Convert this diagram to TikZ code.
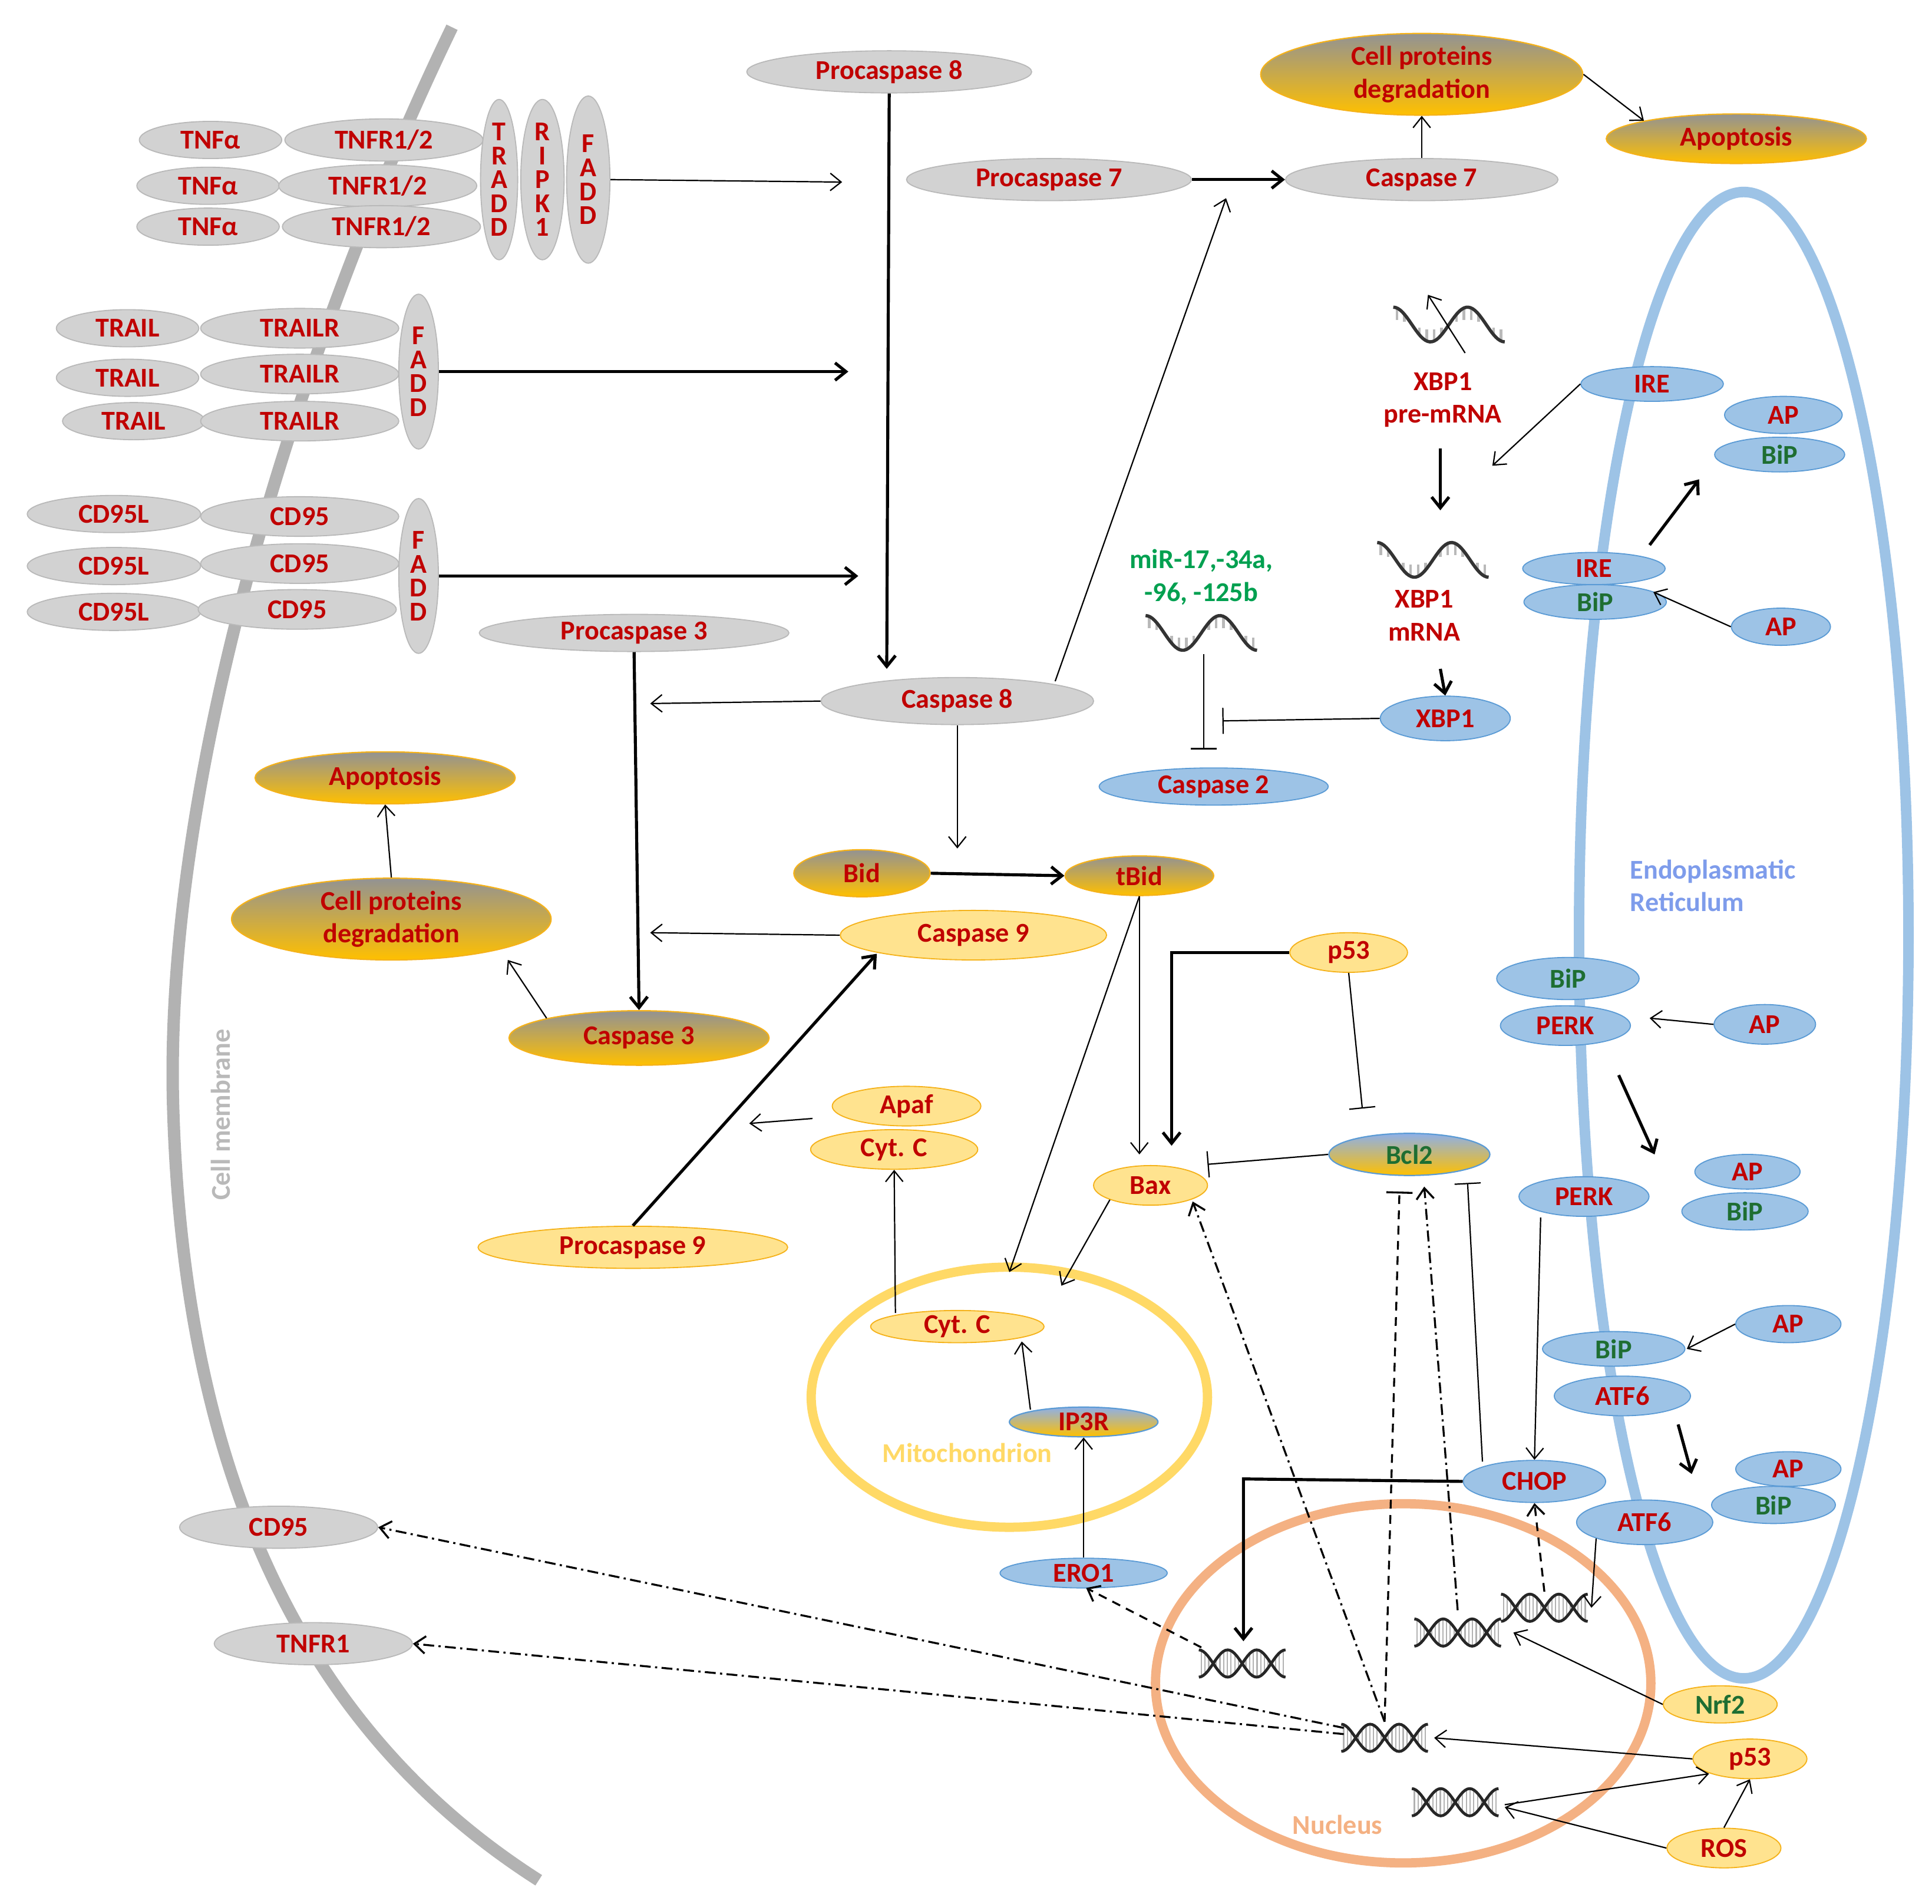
\documentclass[tikz,border=0pt]{standalone}
\usepackage{fontspec}
\setmainfont{Carlito}
\usetikzlibrary{arrows.meta,shapes.geometric}
\definecolor{rd}{HTML}{C00000}
\definecolor{gn}{HTML}{00A050}
\definecolor{bgn}{HTML}{1E6E32}
\definecolor{blf}{HTML}{9DC3E6}
\definecolor{bld}{HTML}{5B9BD5}
\definecolor{orf}{HTML}{FFE38F}
\definecolor{ord}{HTML}{F5B21A}
\definecolor{gold}{HTML}{FFC000}
\definecolor{mito}{HTML}{FFD966}
\definecolor{nuc}{HTML}{F4B183}
\newcommand\E[7]{\node[#1, minimum width=#5*0.02cm, minimum height=#6*0.02cm] (#2) at (#3,#4) {#7};}
\begin{document}
\begin{tikzpicture}[x=0.02cm,y=-0.02cm,
 every node/.style={font=\fontsize{12.5}{13}\selectfont\bfseries, text=rd, inner sep=0pt},
 base/.style={ellipse},
 g/.style={base, fill=gray!35, draw=gray!55, line width=0.5pt},
 ob/.style={base, fill=orf, draw=ord, line width=0.5pt},
 og/.style={base, top color=gray!85, bottom color=gold, draw=ord, line width=0.6pt},
 bo/.style={base, top color=blf!90!blue, bottom color=gold, draw=bld, line width=0.6pt},
 bl/.style={base, fill=blf, draw=bld, line width=0.5pt},
 vt/.style={align=center, font=\fontsize{12.5}{11}\selectfont\bfseries},
 ar/.style={-{Straight Barb[length=5pt,width=8pt]}, line width=0.6pt},
 tk/.style={-{Straight Barb[length=5pt,width=8pt]}, line width=1.4pt},
 inh/.style={-{Bar[width=12pt]}, line width=0.6pt},
 dd/.style={ar, dash pattern=on 5pt off 2pt on 1pt off 2pt, line width=0.9pt},
 dna/.pic={\foreach \x in {-33,-30,...,33}{\draw[gray!60, line width=0.6pt] (\x,{11*sin(\x*7.7)}) -- (\x,{-11*sin(\x*7.7)});}
   \foreach \p in {0,180}{\draw[gray!30!black, line width=1.3pt] plot[domain=-35:35, samples=40] (\x,{11*sin(\x*7.7+\p)});}},
 rna/.pic={\foreach \x in {-42,-36,...,42}{\draw[gray!55, line width=1.2pt] (\x,{-14*cos((\x+45)*6)}) -- (\x,{-4*cos((\x+45)*6)});}
   \draw[gray!40!black, line width=1.5pt] plot[domain=-45:45, samples=50] (\x,{-14*cos((\x+45)*6)});}
]
\useasboundingbox (0,0) rectangle (1560,1537);
% big shapes
\draw[gray!60, line width=0.2cm] (365,22) .. controls (250,260) and (130,620) .. (140,900) .. controls (150,1200) and (250,1400) .. (435,1518);
\draw[blf, line width=0.17cm] (1408,755) ellipse [x radius=133, y radius=600];
\draw[mito, line width=0.15cm] (815,1128) ellipse [x radius=160, y radius=105];
\draw[nuc, line width=0.15cm] (1133,1359) ellipse [x radius=200, y radius=145];
\node[text=gray!55, rotate=90, font=\fontsize{12.5}{13}\selectfont\bfseries] at (178,900) {Cell membrane};
\node[text=blf!80!blue, align=left, anchor=west, font=\fontsize{12.5}{15}\selectfont\bfseries] at (1316,715) {Endoplasmatic\\Reticulum};
\node[text=mito] at (781,1173) {Mitochondrion};
\node[text=nuc] at (1080,1473) {Nucleus};
% gray nodes
\E{g}{proc8}{718}{58}{230}{34}{Procaspase 8}
\E{g}{ta1}{170}{113}{115}{30}{TNFα}
\E{g}{ta2}{168}{150}{115}{30}{TNFα}
\E{g}{ta3}{168}{183}{115}{30}{TNFα}
\E{g}{tr1}{310}{113}{160}{34}{TNFR1/2}
\E{g}{tr2}{305}{150}{160}{34}{TNFR1/2}
\E{g}{tr3}{308}{183}{160}{34}{TNFR1/2}
\E{g,vt}{tradd}{403}{145}{30}{125}{T\\R\\A\\D\\D}
\E{g,vt}{ripk}{438}{145}{35}{125}{R\\I\\P\\K\\1}
\E{g,vt}{fadd1}{475}{145}{35}{135}{F\\A\\D\\D}
\E{g}{tl1}{103}{265}{115}{30}{TRAIL}
\E{g}{tl2}{103}{305}{115}{30}{TRAIL}
\E{g}{tl3}{108}{340}{115}{30}{TRAIL}
\E{g}{tlr1}{242}{265}{160}{32}{TRAILR}
\E{g}{tlr2}{242}{302}{160}{32}{TRAILR}
\E{g}{tlr3}{242}{340}{160}{32}{TRAILR}
\E{g,vt}{fadd2}{338}{300}{32}{125}{F\\A\\D\\D}
\E{g}{cl1}{92}{415}{140}{30}{CD95L}
\E{g}{cl2}{92}{457}{140}{30}{CD95L}
\E{g}{cl3}{92}{494}{140}{30}{CD95L}
\E{g}{c1}{242}{417}{160}{32}{CD95}
\E{g}{c2}{242}{455}{160}{32}{CD95}
\E{g}{c3}{240}{492}{160}{32}{CD95}
\E{g,vt}{fadd3}{338}{465}{32}{125}{F\\A\\D\\D}
\E{g}{proc7}{847}{145}{230}{34}{Procaspase 7}
\E{g}{casp7}{1148}{145}{220}{34}{Caspase 7}
\E{g}{proc3}{512}{511}{250}{30}{Procaspase 3}
\E{g}{casp8}{773}{566}{220}{38}{Caspase 8}
\E{g}{cd95b}{225}{1233}{160}{34}{CD95}
\E{g}{tnfr1b}{253}{1327}{160}{34}{TNFR1}
% gradient nodes
\E{og,align=center,font=\fontsize{12.5}{15}\selectfont\bfseries}{cp1}{1148}{60}{260}{66}{Cell proteins\\degradation}
\E{og}{apop1}{1402}{112}{210}{40}{Apoptosis}
\E{og}{apop2}{311}{628}{210}{42}{Apoptosis}
\E{og,align=center,font=\fontsize{12.5}{15}\selectfont\bfseries}{cp2}{316}{742}{258}{66}{Cell proteins\\degradation}
\E{og}{casp3}{516}{838}{210}{44}{Caspase 3}
\E{og}{bid}{696}{705}{110}{38}{Bid}
\E{og}{tbid}{920}{707}{120}{32}{tBid}
\E{bo}{bcl2}{1138}{932}{130}{34}{\textcolor{bgn}{Bcl2}}
\E{bo}{ip3r}{875}{1148}{120}{24}{IP3R}
% orange nodes
\E{ob}{casp9}{786}{755}{215}{40}{Caspase 9}
\E{ob}{p53a}{1089}{769}{95}{32}{p53}
\E{ob}{apaf}{732}{893}{120}{32}{Apaf}
\E{ob}{cytc1}{722}{928}{135}{32}{Cyt. C}
\E{ob}{bax}{929}{957}{92}{32}{Bax}
\E{ob}{proc9}{511}{1007}{250}{34}{Procaspase 9}
\E{ob}{cytc2}{773}{1071}{140}{26}{Cyt. C}
\E{ob}{nrf2}{1389}{1376}{92}{30}{\textcolor{bgn}{Nrf2}}
\E{ob}{p53b}{1413}{1420}{92}{32}{p53}
\E{ob}{ros}{1392}{1492}{92}{32}{ROS}
% blue nodes
\E{bl}{ire1}{1334}{310}{115}{28}{IRE}
\E{bl}{ap1}{1440}{335}{95}{30}{AP}
\E{bl}{bip1}{1437}{367}{105}{28}{\textcolor{bgn}{BiP}}
\E{bl}{ire2}{1287}{459}{115}{26}{IRE}
\E{bl}{bip2}{1288}{486}{115}{28}{\textcolor{bgn}{BiP}}
\E{bl}{ap2}{1438}{506}{80}{30}{AP}
\E{bl}{xbp1}{1167}{580}{105}{36}{XBP1}
\E{bl}{casp2}{980}{635}{185}{30}{Caspase 2}
\E{bl}{bip3}{1266}{790}{115}{34}{\textcolor{bgn}{BiP}}
\E{bl}{perk1}{1264}{828}{105}{32}{PERK}
\E{bl}{ap3}{1425}{827}{82}{32}{AP}
\E{bl}{ap4}{1411}{946}{85}{28}{AP}
\E{bl}{bip4}{1409}{978}{102}{30}{\textcolor{bgn}{BiP}}
\E{bl}{perk2}{1279}{966}{105}{32}{PERK}
\E{bl}{bip5}{1303}{1089}{115}{28}{\textcolor{bgn}{BiP}}
\E{bl}{ap5}{1444}{1069}{85}{30}{AP}
\E{bl}{atf6a}{1310}{1127}{110}{32}{ATF6}
\E{bl}{ap6}{1444}{1186}{85}{28}{AP}
\E{bl}{bip6}{1432}{1215}{100}{30}{\textcolor{bgn}{BiP}}
\E{bl}{chop}{1239}{1196}{115}{34}{CHOP}
\E{bl}{atf6b}{1328}{1229}{110}{36}{ATF6}
\E{bl}{ero1}{875}{1270}{135}{24}{ERO1}
% text labels
\node[align=center, font=\fontsize{12.5}{15}\selectfont\bfseries] (pre) at (1165,323) {XBP1\\pre-mRNA};
\node[align=center, font=\fontsize{12.5}{15}\selectfont\bfseries] (mrna) at (1150,497) {XBP1\\mRNA};
\node[align=center, text=gn, font=\fontsize{12.5}{15}\selectfont\bfseries] (mir) at (970,466) {miR-17,-34a,\\-96, -125b};
% RNA / DNA
\pic at (1170,262) {rna};
\pic at (1157,452) {rna};
\pic at (970,511) {rna};
\pic at (1003,1343) {dna};
\pic at (1177,1318) {dna};
\pic at (1247,1298) {dna};
\pic at (1118,1403) {dna};
\pic at (1175,1455) {dna};
% arrows
\draw[ar] (fadd1.east) -- (680,147);
\draw[tk] (fadd2.east) -- (685,300);
\draw[tk] (fadd3.east) -- (693,465);
\draw[tk] (proc8.south) -- (716,540);
\draw[tk] (proc7.east) -- (casp7.west);
\draw[ar] (casp7.north) -- (cp1.south);
\draw[ar] (cp1.east) -- (apop1.north west);
\draw[ar] (852,550) -- (990,160);
\draw[ar] (casp8.west) -- (525,568);
\draw[ar] (casp8.south) -- (773,685);
\draw[tk] (proc3.south) -- (casp3.north);
\draw[ar] (casp9.west) -- (525,753);
\draw[ar] (casp3.north west) -- (410,775);
\draw[ar] (cp2.north) -- (apop2.south);
\draw[tk] (bid.east) -- (tbid.west);
\draw[ar] (tbid.south) -- (920,932);
\draw[ar] (tbid.south) -- (815,1027);
\draw[tk] (p53a.west) -- (946,769) -- (946,925);
\draw[inh] (p53a.south) -- (1100,895);
\draw[inh] (bcl2.west) -- (975,940);
\draw[ar] (bax.south west) -- (857,1038);
\draw[tk] (proc9.north) -- (708,770);
\draw[ar] (656,903) -- (605,907);
\draw[ar] (723,1060) -- (cytc1.south);
\draw[ar] (832,1138) -- (825,1083);
\draw[ar] (ero1.north) -- (ip3r.south);
\draw[ar] (1183,285) -- (1153,238);
\draw[ar] (ire1.west) -- (1205,376);
\draw[tk] (1163,362) -- (1163,412);
\draw[tk] (1163,540) -- (xbp1.north);
\draw[inh] (xbp1.west) -- (987,582);
\draw[inh] (972,528) -- (972,605);
\draw[tk] (1332,440) -- (1372,387);
\draw[ar] (ap2.west) -- (1335,478);
\draw[ar] (ap3.west) -- (1332,822);
\draw[tk] (1307,868) -- (1336,932);
\draw[ar] (1244,983) -- (chop.north);
\draw[ar] (ap5.west) -- (1362,1089);
\draw[tk] (1355,1150) -- (1366,1190);
\draw[ar] (atf6b.south west) -- (1285,1298);
\draw[tk] (chop.west) -- (1004,1194) -- (1004,1325);
\draw[inh] (1197,1180) -- (1185,955);
\draw[ar, dash pattern=on 4pt off 3pt, line width=0.9pt] (1247,1285) -- (chop.south);
\draw[dd] (1177,1300) -- (1150,958);
\draw[-{Bar[width=12pt]}, dash pattern=on 4pt off 3pt, line width=0.9pt] (1118,1390) -- (1130,962);
\draw[dd] (1118,1390) -- (963,970);
\draw[dd] (1085,1395) -- (cd95b.east);
\draw[dd] (1085,1400) -- (tnfr1b.east);
\draw[ar, dash pattern=on 4pt off 3pt, line width=0.9pt] (970,1330) -- (877,1282);
\draw[ar] (nrf2.west) -- (1222,1318);
\draw[ar] (p53b.west) -- (1158,1403);
\draw[ar] (1215,1457) -- (1380,1432);
\draw[ar] (ros.west) -- (1215,1459);
\draw[ar] (ros.north) -- (p53b.south);
\end{tikzpicture}
\end{document}
